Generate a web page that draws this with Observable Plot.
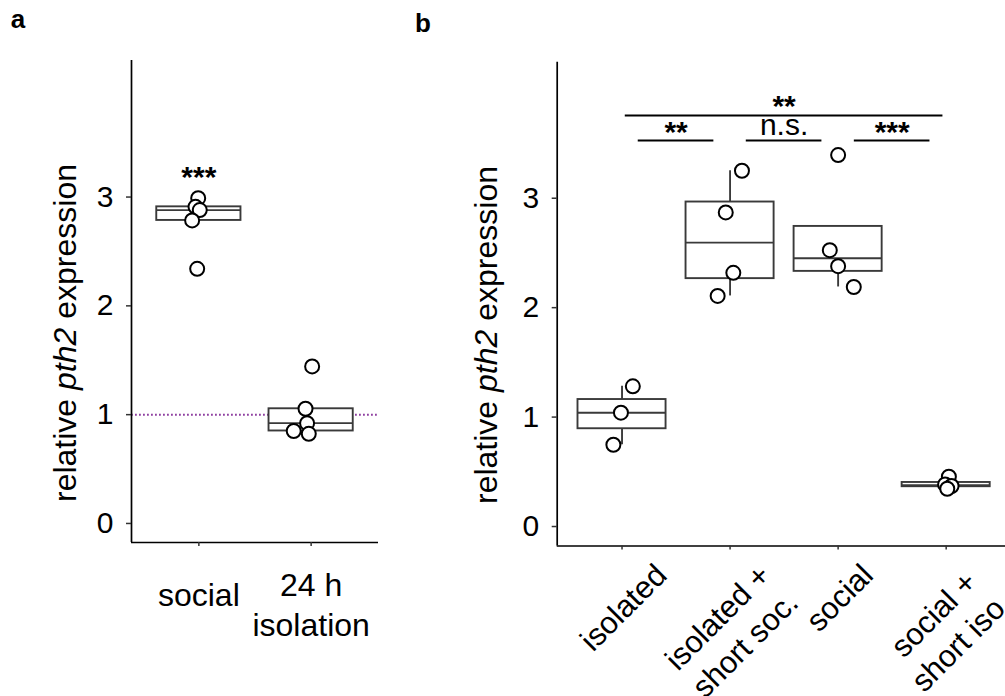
<!DOCTYPE html>
<html><head><meta charset="utf-8">
<script src="https://cdn.jsdelivr.net/npm/d3@7"></script>
<script src="https://cdn.jsdelivr.net/npm/@observablehq/plot@0.6"></script>
<style>
body{margin:0;background:#fff;}
#chart{position:relative;width:1005px;height:696px;overflow:hidden;background:#fff;font-family:"Liberation Sans",Arial,Helvetica,sans-serif;color:#000;}
.panel{position:absolute;top:0;}
.plabel{position:absolute;font-weight:bold;font-size:26px;line-height:26px;}
.ytitle{position:absolute;font-size:32px;line-height:32px;white-space:nowrap;transform:translate(-50%,-50%) rotate(-90deg);}
</style></head><body><div id="chart"></div>
<script>
// ---------------- DATA ----------------
// Panel a
const categoriesA = ["social", "24h isolation"];
const tickLabelsA = ["social", "24 h\nisolation"];
const groupA = ["social","social","social","social","social",
                "24h isolation","24h isolation","24h isolation","24h isolation","24h isolation"];
const valueA = [2.99, 2.91, 2.88, 2.785, 2.34, 1.443, 1.054, 0.922, 0.85, 0.824];
const jitterA = [-0.006, -0.03, 0.008, -0.06, -0.015, 0.009, -0.05, -0.036, -0.155, -0.021];
const referenceA = [1];
const sigGroupA = ["social"];
const sigValueA = [3.09];
const sigLabelA = ["***"];

// Panel b
const categoriesB = ["isolated", "isolated + short soc.", "social", "social + short iso."];
const tickLabelsB = ["isolated", "isolated +\nshort soc.", "social", "social +\nshort iso."];
const groupB = ["isolated","isolated","isolated",
  "isolated + short soc.","isolated + short soc.","isolated + short soc.","isolated + short soc.",
  "social","social","social","social",
  "social + short iso.","social + short iso.","social + short iso.","social + short iso."];
const valueB = [1.281, 1.040, 0.747, 3.251, 2.870, 2.318, 2.107, 3.394, 2.525, 2.379, 2.189, 0.455, 0.385, 0.370, 0.345];
const jitterB = [0.10, -0.01, -0.08, 0.11, -0.04, 0.03, -0.115, 0, -0.077, 0, 0.145, 0.025, -0.01, 0.05, 0.01];
const compFrom = ["isolated", "isolated", "isolated + short soc.", "social"];
const compTo = ["social + short iso.", "isolated + short soc.", "social", "social + short iso."];
const compLevel = [3.756, 3.527, 3.527, 3.527];
const compLabel = ["**", "**", "n.s.", "***"];

const yTicks = [0, 1, 2, 3];
const yTitleParts = ["relative ", "pth2", " expression"];

// ---------------- STYLE ----------------
const FONT = '"Liberation Sans", Arial, Helvetica, sans-serif';
const boxColor = "#3a3a3a";
const boxWidthPx = 1.9;
const refColor = "#8e3fa0";

function boxStats(cats, groups, values) {
  return cats.map((c, i) => {
    const v = values.filter((_, j) => groups[j] === c).sort(d3.ascending);
    const q1 = d3.quantileSorted(v, 0.25), med = d3.quantileSorted(v, 0.5), q3 = d3.quantileSorted(v, 0.75);
    const iqr = q3 - q1;
    const lo = d3.min(v.filter(x => x >= q1 - 1.5 * iqr));
    const hi = d3.max(v.filter(x => x <= q3 + 1.5 * iqr));
    return {i, q1, med, q3, lo, hi};
  });
}
function points(cats, groups, values, jitter) {
  return values.map((v, j) => ({x: cats.indexOf(groups[j]) + jitter[j], y: v}));
}
function boxMarks(stats, boxW) {
  return [
    Plot.ruleX(stats, {x: "i", y1: "q3", y2: "hi", stroke: boxColor, strokeWidth: boxWidthPx}),
    Plot.ruleX(stats, {x: "i", y1: "lo", y2: "q1", stroke: boxColor, strokeWidth: boxWidthPx}),
    Plot.rect(stats, {x1: d => d.i - boxW / 2, x2: d => d.i + boxW / 2, y1: "q1", y2: "q3",
      fill: "white", stroke: boxColor, strokeWidth: boxWidthPx}),
    Plot.ruleY(stats, {x1: d => d.i - boxW / 2, x2: d => d.i + boxW / 2, y: "med", stroke: boxColor, strokeWidth: boxWidthPx})
  ];
}
function dotMark(pts) {
  return Plot.dot(pts, {x: "x", y: "y", r: 7, fill: "white", stroke: "black", strokeWidth: 2});
}
function frameMarks(xDomain, yDomain, n) {
  return [
    Plot.ruleX([xDomain[0]], {stroke: "black", strokeWidth: 1.7}),
    Plot.ruleY([yDomain[0]], {stroke: "black", strokeWidth: 1.7}),
    Plot.axisY({ticks: yTicks, tickFormat: d3.format("d"), tickSize: 5, tickPadding: 13, fontSize: 30,
      label: null, stroke: "#333", strokeWidth: 1.5, color: "black"}),
    Plot.axisX({ticks: d3.range(n), tickSize: 4, tickFormat: () => "", label: null, stroke: "#333", strokeWidth: 1.5})
  ];
}

const chart = document.getElementById("chart");

// ---------------- PANEL A ----------------
const xDomainA = [-0.6, categoriesA.length - 0.4];
const yDomainA = [-0.175, 4.255];
const statsA = boxStats(categoriesA, groupA, valueA);
const ptsA = points(categoriesA, groupA, valueA, jitterA);
const labelsA = tickLabelsA.map((t, i) => ({i, t, n: t.split("\n").length}));
const plotA = Plot.plot({
  width: 400, height: 696,
  marginLeft: 131, marginRight: 22, marginTop: 60, marginBottom: 154,
  x: {domain: xDomainA},
  y: {domain: yDomainA},
  style: {fontFamily: FONT, background: "transparent", color: "black", overflow: "visible"},
  marks: [
    Plot.ruleY(referenceA, {stroke: refColor, strokeWidth: 2, strokeDasharray: "1.8,2.2"}),
    ...boxMarks(statsA, 0.75),
    dotMark(ptsA),
    Plot.text(sigLabelA.map((l, k) => ({x: categoriesA.indexOf(sigGroupA[k]), y: sigValueA[k], l})),
      {x: "x", y: "y", text: "l", fontSize: 30, fontWeight: "bold", lineAnchor: "bottom", fill: "black"}),
    ...frameMarks(xDomainA, yDomainA, categoriesA.length),
    ...labelsA.map(d => Plot.text([d], {x: "i", text: "t", frameAnchor: "bottom", lineAnchor: "bottom",
      dy: 63.7 + (d.n - 1) * 29.3, fontSize: 32, lineHeight: 1.22, fill: "black"}))
  ]
});
plotA.classList.add("panel");
plotA.style.left = "0px";
chart.appendChild(plotA);

// ---------------- PANEL B ----------------
const xDomainB = [-0.6, categoriesB.length - 0.4];
const yDomainB = [-0.178, 4.243];
const statsB = boxStats(categoriesB, groupB, valueB);
const ptsB = points(categoriesB, groupB, valueB, jitterB);
const comps = compLabel.map((l, k) => {
  const a = categoriesB.indexOf(compFrom[k]), b = categoriesB.indexOf(compTo[k]);
  const inset = Math.abs(b - a) === 1 ? 0.15 : 0.03;
  return {x1: Math.min(a, b) + inset, x2: Math.max(a, b) - inset, xm: (a + b) / 2, y: compLevel[k], l};
});
const fsB = 31, lhB = 1.25;
const ctx = document.createElement("canvas").getContext("2d");
ctx.font = `${fsB}px "Liberation Sans"`;
const labelsB = tickLabelsB.map((t, i) => {
  const lines = t.split("\n");
  const W = d3.max(lines, s => ctx.measureText(s).width);
  const H = ((lines.length - 1) * lhB + 0.72) * fsB;
  return {i, t, dy: 14.5 + (W + H) * Math.SQRT1_2 / 2};
});
const plotB = Plot.plot({
  width: 620, height: 696,
  marginLeft: 156.7, marginRight: 9.5, marginTop: 61.7, marginBottom: 150.5,
  x: {domain: xDomainB},
  y: {domain: yDomainB},
  style: {fontFamily: FONT, background: "transparent", color: "black", overflow: "visible"},
  marks: [
    ...boxMarks(statsB, 0.815),
    dotMark(ptsB),
    Plot.ruleY(comps, {x1: "x1", x2: "x2", y: "y", stroke: "black", strokeWidth: 2}),
    Plot.text(comps.filter(d => d.l !== "n.s."), {x: "xm", y: "y", text: "l", fontSize: 30, fontWeight: "bold",
      lineAnchor: "bottom", dy: 1, fill: "black"}),
    Plot.text(comps.filter(d => d.l === "n.s."), {x: "xm", y: "y", text: "l", fontSize: 30,
      lineAnchor: "bottom", dy: -6, fill: "black"}),
    ...frameMarks(xDomainB, yDomainB, categoriesB.length),
    ...labelsB.map(d => Plot.text([d], {x: "i", text: "t", frameAnchor: "bottom", lineAnchor: "middle",
      textAnchor: "middle", rotate: -45, dy: d.dy, fontSize: fsB, lineHeight: lhB, fill: "black"}))
  ]
});
plotB.classList.add("panel");
plotB.style.left = "400px";
chart.appendChild(plotB);

// ---------------- TITLES ----------------
function addDiv(cls, html, left, top) {
  const el = document.createElement("div");
  el.className = cls; el.innerHTML = html;
  el.style.left = left + "px"; el.style.top = top + "px";
  chart.appendChild(el);
}
addDiv("plabel", "a", 10.7, 6.3);
addDiv("plabel", "b", 415, 9.7);
const yTitleHTML = `${yTitleParts[0]}<i>${yTitleParts[1]}</i>${yTitleParts[2]}`;
addDiv("ytitle", yTitleHTML, 65, 333);
addDiv("ytitle", yTitleHTML, 486, 335);
</script></body></html>
